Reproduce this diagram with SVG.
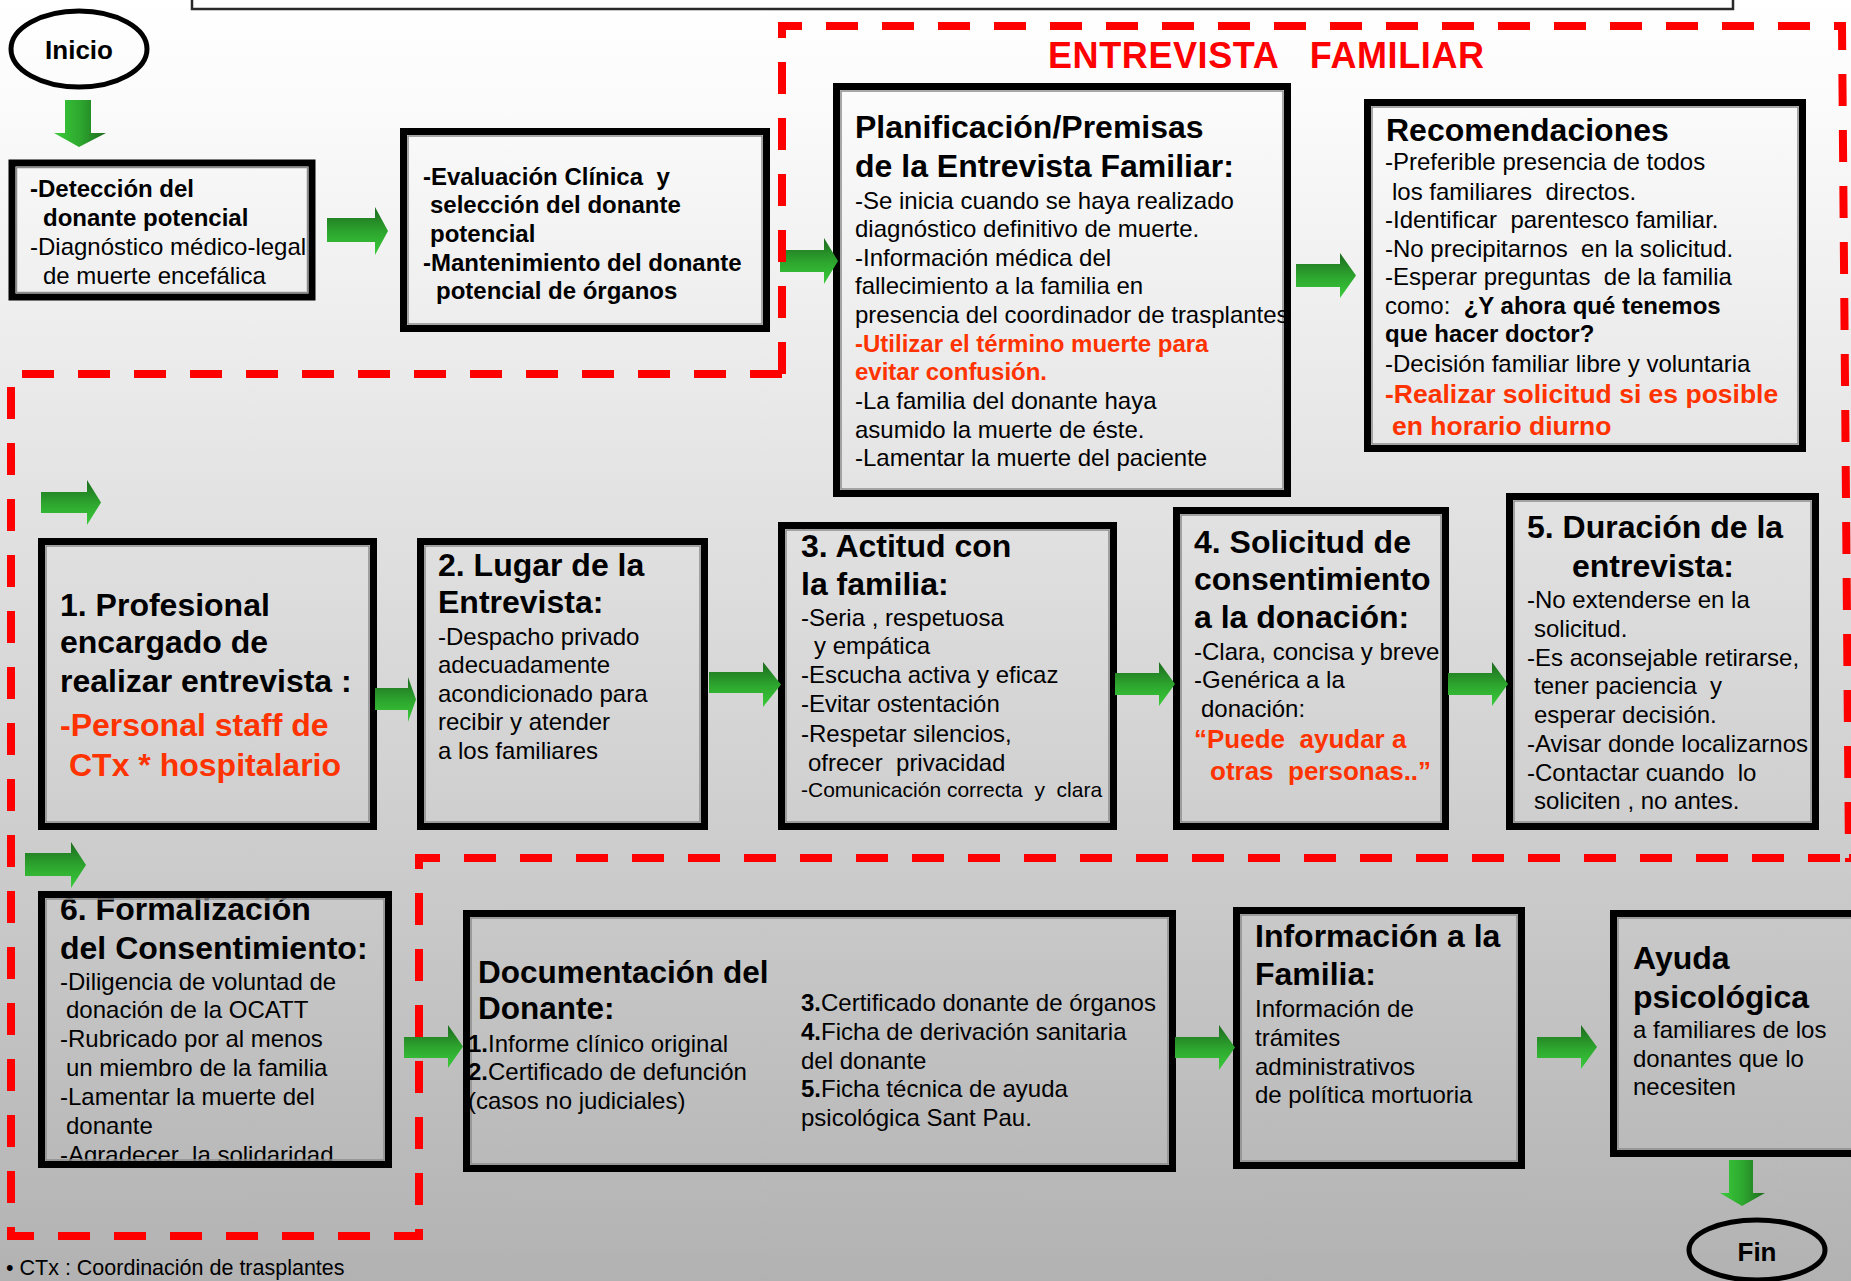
<svg xmlns="http://www.w3.org/2000/svg" width="1851" height="1281" viewBox="0 0 1851 1281">
<defs>
<linearGradient id="bg" x1="0" y1="0" x2="0" y2="1">
<stop offset="0" stop-color="#ffffff"/>
<stop offset="0.08" stop-color="#fbfbfb"/>
<stop offset="1" stop-color="#b2b2b2"/>
</linearGradient>
<linearGradient id="gv" x1="0" y1="0" x2="0" y2="1">
<stop offset="0" stop-color="#1c6a1e"/>
<stop offset="0.55" stop-color="#2ea82f"/>
<stop offset="1" stop-color="#3acb3a"/>
</linearGradient>
<linearGradient id="gh" x1="0" y1="0" x2="1" y2="0">
<stop offset="0" stop-color="#3acb3a"/>
<stop offset="0.5" stop-color="#2ea82f"/>
<stop offset="1" stop-color="#1c6a1e"/>
</linearGradient>
<style>
.box{fill:none;stroke:#000;stroke-width:7}
.inner{fill:none;stroke:#8c8c8c;stroke-width:1.5}
.oval{fill:none;stroke:#000;stroke-width:5}
.t{font-family:"Liberation Sans",Arial,sans-serif;fill:#000;white-space:pre}
.h{font-size:32px;font-weight:bold}
.s{font-size:24px}
.sb{font-size:24px;font-weight:bold}
.r{fill:#ff3300;font-weight:bold}
.arr{fill:url(#gv)}
.arrd{fill:url(#gh)}
.dash{fill:none;stroke:#ff0000;stroke-width:8;stroke-dasharray:32 24}
</style>
</defs>
<rect x="0" y="0" width="1851" height="1281" fill="url(#bg)"/>
<rect id="top-bar" x="192" y="-10" width="1541" height="19" fill="#ffffff" stroke="#2a2a2a" stroke-width="2.5"/>

<g id="inicio">
<ellipse class="oval" cx="79" cy="49" rx="68" ry="38"/>
<text class="t" x="79" y="59" text-anchor="middle" style="font-size:26px;font-weight:bold">Inicio</text>
</g>

<g id="deteccion">
<rect class="box" x="12" y="163" width="300" height="134"/>
<rect class="inner" x="16.5" y="167.5" width="291" height="125"/>
<text class="t sb" x="30" y="197">-Detección del</text>
<text class="t sb" x="43" y="226">donante potencial</text>
<text class="t s" x="30" y="255">-Diagnóstico médico-legal</text>
<text class="t s" x="43" y="284">de muerte encefálica</text>
</g>

<g id="evaluacion">
<rect class="box" x="403.5" y="131.5" width="363" height="197"/>
<rect class="inner" x="408" y="136" width="354" height="188"/>
<text class="t sb" x="423" y="185">-Evaluación Clínica  y</text>
<text class="t sb" x="430" y="213">selección del donante</text>
<text class="t sb" x="430" y="242">potencial</text>
<text class="t sb" x="423" y="271">-Mantenimiento del donante</text>
<text class="t sb" x="436" y="299">potencial de órganos</text>
</g>

<g id="titulo">
<text class="t" x="1048" y="68" textLength="436" style="font-size:36px;font-weight:bold;fill:#ff0000">ENTREVISTA   FAMILIAR</text>
</g>

<g id="planificacion">
<rect class="box" x="836.5" y="86.5" width="451" height="407"/>
<rect class="inner" x="841" y="91" width="442" height="398"/>
<text class="t h" x="855" y="138">Planificación/Premisas</text>
<text class="t h" x="855" y="177">de la Entrevista Familiar:</text>
<text class="t s" x="855" y="209">-Se inicia cuando se haya realizado</text>
<text class="t s" x="855" y="237">diagnóstico definitivo de muerte.</text>
<text class="t s" x="855" y="266">-Información médica del</text>
<text class="t s" x="855" y="294">fallecimiento a la familia en</text>
<text class="t s" x="855" y="323">presencia del coordinador de trasplantes</text>
<text class="t s r" x="855" y="352">-Utilizar el término muerte para</text>
<text class="t s r" x="855" y="380">evitar confusión.</text>
<text class="t s" x="855" y="409">-La familia del donante haya</text>
<text class="t s" x="855" y="438">asumido la muerte de éste.</text>
<text class="t s" x="855" y="466">-Lamentar la muerte del paciente</text>
</g>

<g id="recomendaciones">
<rect class="box" x="1367.5" y="102.5" width="435" height="346"/>
<rect class="inner" x="1372" y="107" width="426" height="337"/>
<text class="t" x="1386" y="141" style="font-size:32px;font-weight:bold">Recomendaciones</text>
<text class="t s" x="1385" y="170">-Preferible presencia de todos</text>
<text class="t s" x="1392" y="200">los familiares  directos.</text>
<text class="t s" x="1385" y="228">-Identificar  parentesco familiar.</text>
<text class="t s" x="1385" y="257">-No precipitarnos  en la solicitud.</text>
<text class="t s" x="1385" y="285">-Esperar preguntas  de la familia</text>
<text class="t s" x="1385" y="314">como:  <tspan font-weight="bold">¿Y ahora qué tenemos</tspan></text>
<text class="t sb" x="1385" y="342">que hacer doctor?</text>
<text class="t s" x="1385" y="372">-Decisión familiar libre y voluntaria</text>
<text class="t r" x="1385" y="403" style="font-size:26.5px">-Realizar solicitud si es posible</text>
<text class="t r" x="1392" y="435" style="font-size:26.5px">en horario diurno</text>
</g>

<g id="paso1">
<rect class="box" x="41.5" y="541.5" width="332" height="285"/>
<rect class="inner" x="46" y="546" width="323" height="276"/>
<text class="t h" x="60" y="616">1. Profesional</text>
<text class="t h" x="60" y="653">encargado de</text>
<text class="t h" x="60" y="692">realizar entrevista :</text>
<text class="t h r" x="60" y="736">-Personal staff de</text>
<text class="t h r" x="69" y="776">CTx * hospitalario</text>
</g>

<g id="paso2">
<rect class="box" x="420.5" y="541.5" width="284" height="285"/>
<rect class="inner" x="425" y="546" width="275" height="276"/>
<text class="t h" x="438" y="576">2. Lugar de la</text>
<text class="t h" x="438" y="613">Entrevista:</text>
<text class="t s" x="438" y="645">-Despacho privado</text>
<text class="t s" x="438" y="673">adecuadamente</text>
<text class="t s" x="438" y="702">acondicionado para</text>
<text class="t s" x="438" y="730">recibir y atender</text>
<text class="t s" x="438" y="759">a los familiares</text>
</g>

<g id="paso3">
<rect class="box" x="781.5" y="525.5" width="332" height="301"/>
<rect class="inner" x="786" y="530" width="323" height="292"/>
<text class="t h" x="801" y="557">3. Actitud con</text>
<text class="t h" x="801" y="595">la familia:</text>
<text class="t s" x="801" y="626">-Seria , respetuosa</text>
<text class="t s" x="814" y="654">y empática</text>
<text class="t s" x="801" y="683">-Escucha activa y eficaz</text>
<text class="t s" x="801" y="712">-Evitar ostentación</text>
<text class="t s" x="801" y="742">-Respetar silencios,</text>
<text class="t s" x="808" y="771">ofrecer  privacidad</text>
<text class="t" x="801" y="797" style="font-size:21px">-Comunicación correcta  y  clara</text>
</g>

<g id="paso4">
<rect class="box" x="1176.5" y="510.5" width="269" height="316"/>
<rect class="inner" x="1181" y="515" width="260" height="307"/>
<text class="t h" x="1194" y="553">4. Solicitud de</text>
<text class="t h" x="1194" y="590">consentimiento</text>
<text class="t h" x="1194" y="628">a la donación:</text>
<text class="t s" x="1194" y="660">-Clara, concisa y breve</text>
<text class="t s" x="1194" y="688">-Genérica a la</text>
<text class="t s" x="1201" y="717">donación:</text>
<text class="t r" x="1194" y="748" style="font-size:26px">“Puede  ayudar a</text>
<text class="t r" x="1210" y="780" style="font-size:26px">otras  personas..”</text>
</g>

<g id="paso5">
<rect class="box" x="1509.5" y="496.5" width="306" height="330"/>
<rect class="inner" x="1514" y="501" width="297" height="321"/>
<text class="t h" x="1527" y="538">5. Duración de la</text>
<text class="t h" x="1572" y="577">entrevista:</text>
<text class="t s" x="1527" y="608">-No extenderse en la</text>
<text class="t s" x="1534" y="637">solicitud.</text>
<text class="t s" x="1527" y="666">-Es aconsejable retirarse,</text>
<text class="t s" x="1534" y="694">tener paciencia  y</text>
<text class="t s" x="1534" y="723">esperar decisión.</text>
<text class="t s" x="1527" y="752">-Avisar donde localizarnos</text>
<text class="t s" x="1527" y="781">-Contactar cuando  lo</text>
<text class="t s" x="1534" y="809">soliciten , no antes.</text>
</g>

<g id="paso6">
<text class="t h" x="60" y="920">6. Formalización</text>
<text class="t h" x="60" y="959">del Consentimiento:</text>
<text class="t s" x="60" y="990">-Diligencia de voluntad de</text>
<text class="t s" x="66" y="1018">donación de la OCATT</text>
<text class="t s" x="60" y="1047">-Rubricado por al menos</text>
<text class="t s" x="66" y="1076">un miembro de la familia</text>
<text class="t s" x="60" y="1105">-Lamentar la muerte del</text>
<text class="t s" x="66" y="1134">donante</text>
<text class="t s" x="60" y="1163">-Agradecer  la solidaridad</text>
<rect class="box" x="41.5" y="894.5" width="347" height="270"/>
<rect class="inner" x="46" y="899" width="338" height="261"/>
</g>

<g id="documentacion">
<rect class="box" x="466.5" y="913.5" width="706" height="255"/>
<rect class="inner" x="471" y="918" width="697" height="246"/>
<text class="t" x="478" y="983" style="font-size:31.5px;font-weight:bold">Documentación del</text>
<text class="t" x="478" y="1019" style="font-size:31.5px;font-weight:bold">Donante:</text>
<text class="t s" x="468" y="1052"><tspan font-weight="bold">1.</tspan>Informe clínico original</text>
<text class="t s" x="468" y="1080"><tspan font-weight="bold">2.</tspan>Certificado de defunción</text>
<text class="t s" x="468" y="1109">(casos no judiciales)</text>
<text class="t s" x="801" y="1011"><tspan font-weight="bold">3.</tspan>Certificado donante de órganos</text>
<text class="t s" x="801" y="1040"><tspan font-weight="bold">4.</tspan>Ficha de derivación sanitaria</text>
<text class="t s" x="801" y="1069">del donante</text>
<text class="t s" x="801" y="1097"><tspan font-weight="bold">5.</tspan>Ficha técnica de ayuda</text>
<text class="t s" x="801" y="1126">psicológica Sant Pau.</text>
</g>

<g id="informacion">
<rect class="box" x="1236.5" y="910.5" width="285" height="255"/>
<rect class="inner" x="1241" y="915" width="276" height="246"/>
<text class="t h" x="1255" y="947">Información a la</text>
<text class="t h" x="1255" y="985">Familia:</text>
<text class="t s" x="1255" y="1017">Información de</text>
<text class="t s" x="1255" y="1046">trámites</text>
<text class="t s" x="1255" y="1075">administrativos</text>
<text class="t s" x="1255" y="1103">de política mortuoria</text>
</g>

<g id="ayuda">
<rect class="box" x="1613.5" y="913.5" width="260" height="240"/>
<rect class="inner" x="1618" y="918" width="251" height="231"/>
<text class="t h" x="1633" y="969">Ayuda</text>
<text class="t h" x="1633" y="1008">psicológica</text>
<text class="t s" x="1633" y="1038">a familiares de los</text>
<text class="t s" x="1633" y="1067">donantes que lo</text>
<text class="t s" x="1633" y="1095">necesiten</text>
</g>

<g id="fin">
<ellipse class="oval" cx="1757" cy="1250" rx="68" ry="30"/>
<text class="t" x="1757" y="1261" text-anchor="middle" style="font-size:26px;font-weight:bold">Fin</text>
</g>

<g id="connectors">
<path class="arrd" d="M65 100 L91 100 L91 133 L106 133 L79 147 L54 133 L65 133 Z"/>
<path class="arr" d="M327 218 L375 218 L375 207 L388 231 L375 255 L375 242 L327 242 Z"/>
<path class="arr" d="M780 250 L824 250 L824 238 L838 261 L824 284 L824 272 L780 272 Z"/>
<path class="arr" d="M1296 264 L1340 264 L1340 253 L1356 275.5 L1340 298 L1340 287 L1296 287 Z"/>
<path class="arr" d="M41 492 L87 492 L87 480 L101 502.5 L87 525 L87 513 L41 513 Z"/>
<path class="arr" d="M375 688 L408 688 L408 677 L416 699.5 L408 722 L408 710 L375 710 Z"/>
<path class="arr" d="M709 672 L763 672 L763 662 L781 684.5 L763 707 L763 693 L709 693 Z"/>
<path class="arr" d="M1115 673 L1159 673 L1159 662 L1175 684 L1159 706 L1159 695 L1115 695 Z"/>
<path class="arr" d="M1448 673 L1492 673 L1492 662 L1508 684 L1492 706 L1492 695 L1448 695 Z"/>
<path class="arr" d="M25 853 L71 853 L71 842 L86 865 L71 888 L71 876 L25 876 Z"/>
<path class="arr" d="M404 1037 L448 1037 L448 1025 L463 1046.5 L448 1068 L448 1058 L404 1058 Z"/>
<path class="arr" d="M1175 1037 L1219 1037 L1219 1025 L1235 1047.5 L1219 1070 L1219 1058 L1175 1058 Z"/>
<path class="arr" d="M1537 1037 L1581 1037 L1581 1025 L1597 1047 L1581 1069 L1581 1058 L1537 1058 Z"/>
<path class="arrd" d="M1729 1160 L1753 1160 L1753 1193 L1765 1193 L1742 1206 L1720 1193 L1729 1193 Z"/>
</g>

<g id="region-entrevista">
<path class="dash" d="M782 374 L782 26 L1842 26 L1849 858 L1851 858"/>
<path class="dash" d="M782 374 L11 374 L11 1236 L419 1236 L419 858 L1851 858"/>
</g>

<g id="nota">
<text class="t" x="6" y="1275" style="font-size:21.5px">• CTx : Coordinación de trasplantes</text>
</g>
</svg>
